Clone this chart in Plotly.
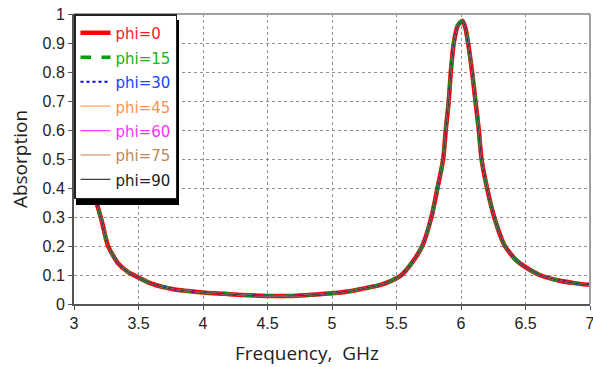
import plotly.graph_objects as go

freq = [3.0, 3.05, 3.1, 3.167, 3.213, 3.264, 3.342, 3.42, 3.51, 3.6, 3.78, 4.0, 4.17, 4.3,
        4.5, 4.7, 4.85, 5.0, 5.15, 5.25, 5.37, 5.45, 5.5, 5.539, 5.616, 5.70, 5.771, 5.818,
        5.862, 5.882, 5.905, 5.921, 5.944, 5.975, 6.011, 6.035, 6.055, 6.086, 6.112, 6.138,
        6.159, 6.202, 6.257, 6.34, 6.43, 6.508, 6.61, 6.75, 6.88, 7.0]
absorption = [0.60, 0.52, 0.45, 0.36, 0.29, 0.20, 0.14, 0.11, 0.089, 0.07, 0.05, 0.04, 0.035, 0.031,
              0.028, 0.028, 0.032, 0.037, 0.045, 0.054, 0.065, 0.078, 0.089, 0.10, 0.14, 0.20, 0.30, 0.40,
              0.50, 0.60, 0.70, 0.80, 0.90, 0.96, 0.977, 0.95, 0.90, 0.80, 0.70, 0.60,
              0.50, 0.40, 0.30, 0.20, 0.15, 0.125, 0.10, 0.082, 0.072, 0.066]

phis = ["phi=0", "phi=15", "phi=30", "phi=45", "phi=60", "phi=75", "phi=90"]
colors = ["#ff0000", "#00a000", "#0000ff", "#ffa060", "#ff40ff", "#c08850", "#404040"]
text_colors = ["#ff2020", "#20b020", "#2040ff", "#ff9050", "#ff30ff", "#c08858", "#202020"]
dashes = ["solid", "dash", "dot", "solid", "solid", "solid", "solid"]
widths = [4.5, 3.5, 2, 1.2, 1.2, 1.2, 1.2]

x_title = "Frequency,  GHz"
y_title = "Absorption"

fig = go.Figure()
for name, c, tc, d, w in zip(phis, colors, text_colors, dashes, widths):
    fig.add_trace(go.Scatter(
        x=freq, y=absorption, mode="lines",
        line=dict(color=c, dash=d, width=w, shape="spline", smoothing=0.6),
        name=f"<span style='color:{tc};font-size:15px'>{name}</span>",
    ))

axis_font = dict(family="Liberation Sans, Arial, sans-serif", size=16, color="#222222")
title_font = dict(family="Open Sans, sans-serif", size=19, color="#222222")

L, R, T, B = 74, 3, 14, 63
W, H = 593, 367
pw, ph = W - L - R, H - T - B

fig.update_layout(
    width=W, height=H,
    margin=dict(l=L, r=R, t=T, b=B),
    paper_bgcolor="white", plot_bgcolor="white",
    showlegend=True,
    legend=dict(
        x=0, y=1, xanchor="left", yanchor="top",
        bgcolor="white", bordercolor="#222222", borderwidth=1.5,
        font=dict(family="DejaVu Sans, Verdana, sans-serif", size=16.5),
        tracegroupgap=0, itemwidth=30,
    ),
    xaxis=dict(
        range=[3, 7], dtick=0.5, automargin=False,
        showgrid=True, gridcolor="#909090", griddash="dot", gridwidth=1,
        showline=True, linecolor="#555555", linewidth=2, mirror=False,
        ticks="outside", ticklen=4, tickcolor="#555555",
        tickfont=axis_font, ticklabeloverflow="allow",
        zeroline=False,
    ),
    yaxis=dict(
        range=[0, 1], dtick=0.1, automargin=False,
        showgrid=True, gridcolor="#909090", griddash="dot", gridwidth=1,
        showline=True, linecolor="#555555", linewidth=2, mirror=False,
        ticks="outside", ticklen=4, tickcolor="#555555",
        tickfont=axis_font,
        title=dict(text=y_title, font=title_font, standoff=10),
        zeroline=False,
    ),
    annotations=[
        dict(text=x_title, xref="paper", yref="paper", x=(307 - L) / pw, y=(H - B - 353) / ph,
             xanchor="center", yanchor="middle", showarrow=False, font=title_font),
    ],
    shapes=[
        dict(type="line", xref="paper", yref="paper", x0=0, x1=1, y0=1, y1=1,
             line=dict(color="#a0a0a0", width=2)),
        dict(type="line", xref="paper", yref="paper", x0=1, x1=1, y0=0, y1=1,
             line=dict(color="#a0a0a0", width=2)),
        dict(type="rect", xref="paper", yref="paper",
             x0=(76 - L) / pw, x1=(179 - L) / pw,
             y0=(H - B - 205) / ph, y1=(H - B - 20) / ph,
             fillcolor="black", line=dict(width=0), layer="above"),
    ],
)

fig.write_html("out.html")
